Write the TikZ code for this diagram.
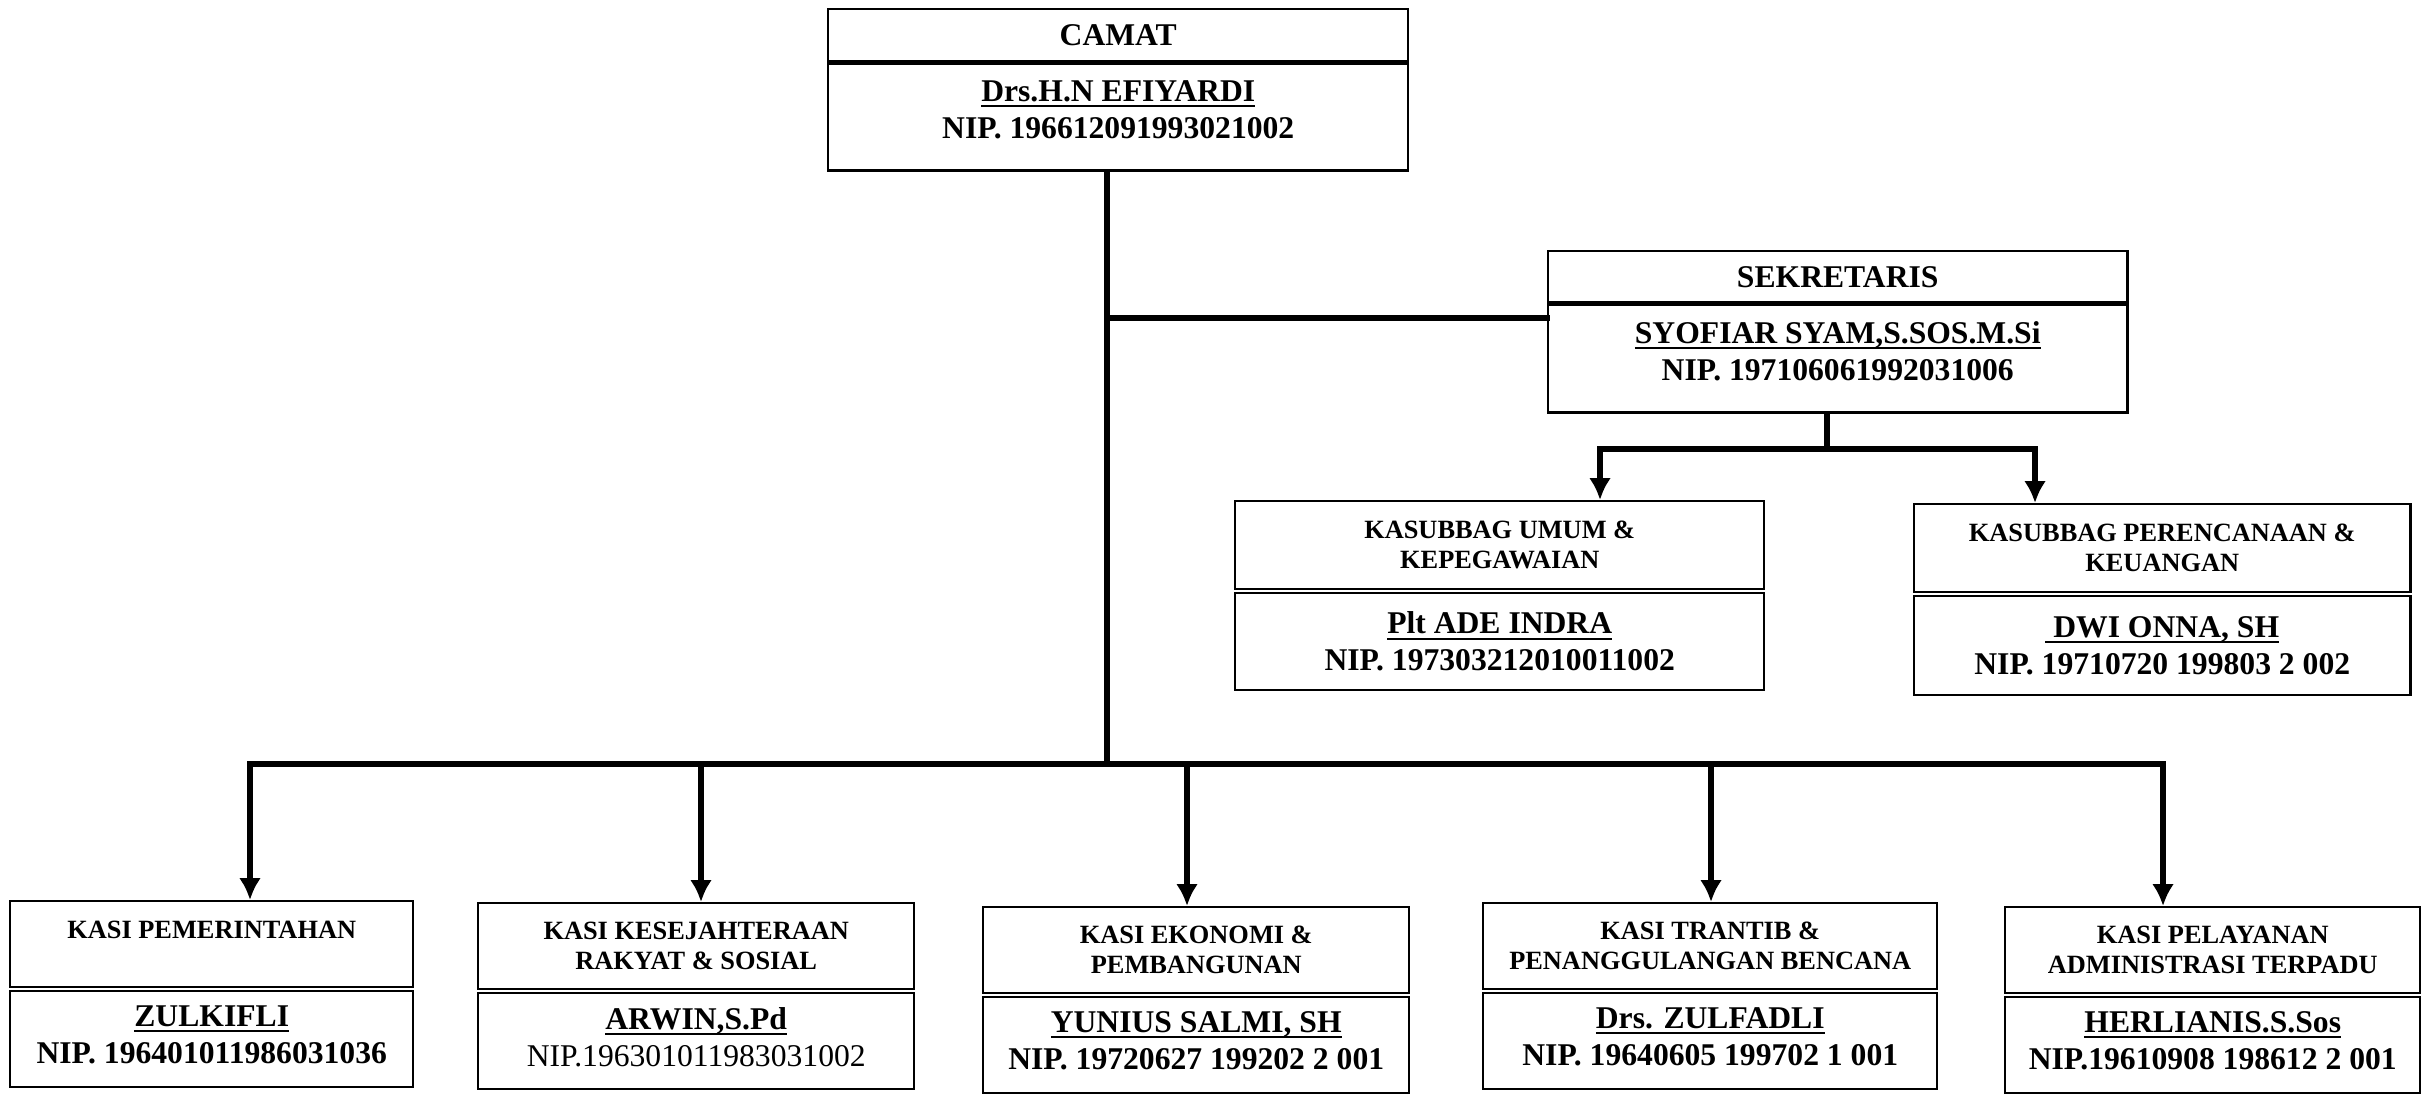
\documentclass[tikz,border=0pt]{standalone}
\usepackage{fontspec}
\setmainfont{Liberation Serif}
\usetikzlibrary{arrows.meta,positioning}
\tikzset{cell/.style={draw, rectangle, line width=0.7pt, inner sep=0pt, align=center}}
\tikzset{head/.style={cell, font=\bfseries\fontsize{9}{10.5}\selectfont}}
\tikzset{unit/.style={cell, font=\bfseries\fontsize{7.5}{8.5}\selectfont}}
\tikzset{who/.style={cell, font=\bfseries\fontsize{9}{10.5}\selectfont}}
\tikzset{link/.style={line width=1.5pt, line cap=rect}}
\newcommand{\undername}[1]{\setbox0\hbox{#1}\rlap{\rule[-1.6pt]{\wd0}{0.6pt}}\box0}

\begin{document}
\begin{tikzpicture}[x=1mm, y=-1mm, node distance=0pt,
    >={Latex[length=2.2mm, width=2.2mm]}]
  \useasboundingbox (0,0) rectangle (242.1,109.5);

  % camat and sekretaris
  \node[head, anchor=north west, minimum width=58mm, minimum height=5.2mm] (camat) at (82.7,0.8) {CAMAT};
  \node[who, below=of camat, minimum width=58mm, minimum height=10.7mm] (camatN)
    {\undername{Drs.H.N EFIYARDI}\\NIP. 196612091993021002\\[-6pt]\mbox{}};

  \node[head, anchor=north west, minimum width=57.9mm, minimum height=5.1mm] (sek) at (154.7,25.0) {SEKRETARIS};
  \node[who, below=of sek, minimum width=57.9mm, minimum height=10.8mm] (sekN)
    {\undername{SYOFIAR SYAM,S.SOS.M.Si}\\NIP. 197106061992031006\\[-6pt]\mbox{}};

  % kasubbag
  \node[unit, anchor=north west, minimum width=52.9mm, minimum height=8.8mm] (umum) at (123.4,50.0)
    {KASUBBAG UMUM \&\\KEPEGAWAIAN};
  \node[who, below=0.15mm of umum, minimum width=52.9mm, minimum height=9.7mm] (umumN)
    {\undername{Plt ADE INDRA}\\NIP. 197303212010011002};

  \node[unit, anchor=north west, minimum width=49.6mm, minimum height=8.8mm] (renc) at (191.3,50.3)
    {KASUBBAG PERENCANAAN \&\\KEUANGAN};
  \node[who, below=0.15mm of renc, minimum width=49.6mm, minimum height=9.9mm] (rencN)
    {\undername{\ DWI ONNA, SH}\\NIP. 19710720 199803 2 002};

  % kasi
  \node[unit, anchor=north west, minimum width=40.3mm, minimum height=8.6mm] (k1) at (0.9,90.0)
    {KASI PEMERINTAHAN\\\mbox{}};
  \node[who, below=0.15mm of k1, minimum width=40.3mm, minimum height=9.6mm] (k1N)
    {\undername{ZULKIFLI}\\NIP. 196401011986031036\\[-8pt]\mbox{}};

  \node[unit, anchor=north west, minimum width=43.6mm, minimum height=8.6mm] (k2) at (47.7,90.2)
    {KASI KESEJAHTERAAN\\RAKYAT \& SOSIAL};
  \node[who, below=0.15mm of k2, minimum width=43.6mm, minimum height=9.6mm] (k2N)
    {\undername{ARWIN,S.Pd}\\\textmd{NIP.196301011983031002}\\[-8pt]\mbox{}};

  \node[unit, anchor=north west, minimum width=42.6mm, minimum height=8.6mm] (k3) at (98.2,90.6)
    {KASI EKONOMI \&\\PEMBANGUNAN};
  \node[who, below=0.15mm of k3, minimum width=42.6mm, minimum height=9.6mm] (k3N)
    {\undername{YUNIUS SALMI, SH}\\NIP. 19720627 199202 2 001\\[-8pt]\mbox{}};

  \node[unit, anchor=north west, minimum width=45.4mm, minimum height=8.6mm] (k4) at (148.2,90.2)
    {KASI TRANTIB \&\\PENANGGULANGAN BENCANA};
  \node[who, below=0.15mm of k4, minimum width=45.4mm, minimum height=9.6mm] (k4N)
    {\undername{Drs. ZULFADLI}\\NIP. 19640605 199702 1 001\\[-8pt]\mbox{}};

  \node[unit, anchor=north west, minimum width=41.5mm, minimum height=8.6mm] (k5) at (200.4,90.6)
    {KASI PELAYANAN\\ADMINISTRASI TERPADU};
  \node[who, below=0.15mm of k5, minimum width=41.5mm, minimum height=9.6mm] (k5N)
    {\undername{HERLIANIS.S.Sos}\\NIP.19610908 198612 2 001\\[-8pt]\mbox{}};

  % lines
  \coordinate (jsek) at (110.7,31.8);
  \coordinate (jbus) at (110.7,76.4);
  \coordinate (busL) at (25.0,76.4);
  \coordinate (busR) at (216.3,76.4);
  \draw[link] (camatN.south -| jbus) -- (jbus);
  \draw[link] (jsek) -- (jsek -| sekN.west);
  \draw[link] (busL) -- (busR);

  \coordinate (a1) at (25.0,76.4);
  \coordinate (a2) at (70.1,76.4);
  \coordinate (a3) at (118.7,76.4);
  \coordinate (a4) at (171.1,76.4);
  \coordinate (a5) at (216.3,76.4);
  \foreach \n in {1,...,5}
    \draw[link,->] (a\n) -- (a\n |- k\n.north);

  \coordinate (sM) at (182.7,44.9);
  \coordinate (sL) at (160.0,44.9);
  \coordinate (sR) at (203.5,44.9);
  \draw[link] (sekN.south -| sM) -- (sM);
  \draw[link] (sL) -- (sR);
  \draw[link,->] (sL) -- (sL |- umum.north);
  \draw[link,->] (sR) -- (sR |- renc.north);
\end{tikzpicture}
\end{document}
